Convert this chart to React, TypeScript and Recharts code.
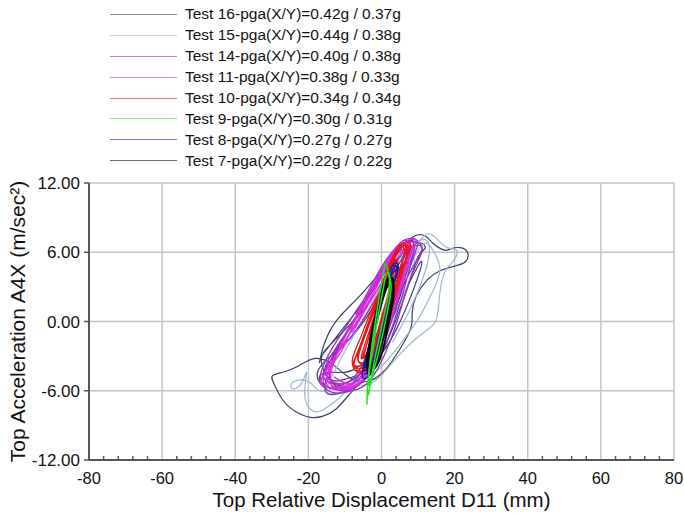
import { LineChart, Line, XAxis, YAxis, CartesianGrid, ReferenceLine, Label } from 'recharts';

type Pt = [number, number];

// hysteresis traces (x: mm, y: m/sec²)
const test16: Pt[] = [
  [-17, -3.6], [-15.5, -1.8], [-12, 0.2], [-6, 2.2], [0, 4.4], [5, 6.2], [9, 7.4], [12, 7.4],
  [14, 6.8], [17, 6.2], [19, 6.3], [21.5, 6.4], [23.5, 6.0], [23, 5.2], [20, 4.8], [16, 4.4],
  [12.5, 3.6], [9.5, 2.2], [8.4, 0.8], [8, -0.6], [5, -2.4], [1, -4.2], [-4, -5.2], [-9, -4.8],
  [-13, -3.8], [-18, -3.2], [-23, -3.9], [-27, -4.4], [-29.8, -4.7], [-29.4, -5.4], [-27, -6.8],
  [-23.5, -7.8], [-19.5, -8.3], [-16, -8.2], [-12.5, -7.6], [-9, -6.4], [-5, -5.0], [-1, -3.4],
  [3, -0.6], [7, 2.8], [10, 5.6], [12, 6.4], [10, 6.8], [6, 5.6], [1, 3.0], [-4, 0.4], [-9, -1.6],
  [-14, -3.0], [-17.5, -4.4], [-16, -5.6], [-12, -5.6], [-7, -4.8], [-2, -3.0], [3, 0.2],
  [8, 3.6], [11, 5.2], [9, 3.0], [4.5, -0.4], [0, -2.8], [-5, -4.4], [-10, -5.0], [-14, -5.0],
  [-16.5, -3.4], [-14, -2.0], [-9, -0.4], [-4, 1.4], [1, 3.8], [5, 5.6], [7, 4.6], [4, 1.2],
  [0, -1.6], [-5, -3.6], [-10, -4.4], [-15, -4.4], [-17, -5.0], [-14, -5.8], [-9, -5.6],
  [-4, -4.4], [0, -2.0], [4, 2.0], [7, 5.4], [9, 6.8], [6, 6.6], [0, 3.8], [-6, 1.2],
  [-12, -1.2], [-16, -2.8],
];

const test15: Pt[] = [
  [0, 0], [4, 3], [8, 5.6], [11, 7.2], [13, 7.6], [15, 7.2], [18, 6.4], [20.5, 6.2], [20, 5.4],
  [17.5, 4.4], [16, 2.6], [15.2, 0.4], [13, -0.6], [9, -1.6], [4, -3.2], [-2, -5.2], [-8, -5.6],
  [-13, -5.8], [-17, -6.0], [-20, -5.2], [-24, -5.2], [-24.5, -5.8], [-22, -5.4], [-20.5, -4.4],
  [-21, -6.0], [-20, -7.4], [-17, -7.8], [-13, -7.0], [-9, -5.8], [-5, -3.6], [0, -0.6], [5, 2.6],
  [9, 5.6], [12, 6.8], [14, 6.2], [16, 4.6], [14, 2.6], [10, 0.2], [5, -2.0], [-1, -4.2],
  [-7, -5.4], [-12, -6.2], [-15, -6.0], [-13, -4.4], [-9, -2.0], [-4, 0.8], [1, 3.6], [6, 5.8],
  [9, 6.2], [8, 4.0], [4, 0.8], [-2, -2.8], [-8, -5.0], [-13, -5.4], [-16, -4.6], [-13, -3.0],
  [-8, -0.8], [-2, 2.2], [4, 5.0], [10, 7.0], [13, 6.6], [12, 4.4], [8, 1.2], [3, -1.8],
];

const test14: Pt[] = [
  [-15, -5.6], [-10, -6.0], [-5, -5.2], [-1, -3.4], [3, -0.4], [6, 2.6], [8.5, 5.4], [10, 6.8],
  [8, 7.2], [4, 6.4], [0, 4.0], [-5, 1.8], [-10, -0.6], [-14, -2.6], [-16.5, -4.4],
  [-16, -5.6], [-12, -6.2], [-7, -5.6], [-3, -4.2], [1, -1.6], [4, 1.4], [7, 4.4], [9, 6.4],
  [7, 6.9], [3, 5.8], [-1, 3.4], [-6, 0.8], [-11, -1.6], [-15, -3.6],
  [-15, -4.8], [-11, -5.4], [-6, -4.6], [-2, -2.6], [2, 0.6], [5, 3.6], [7, 6.0], [6, 6.8],
  [2, 5.4], [-2, 3.0], [-7, 0.2], [-12, -2.2],
  [-14, -5.0], [-9, -5.6], [-4, -4.2], [0, -1.8], [4, 1.6], [8, 4.4], [11, 6.2], [9.5, 6.9],
  [6, 6.6], [1, 4.6], [-4, 2.0], [-9, -0.6], [-13, -2.8],
  [-16, -5.2], [-12, -5.8], [-8, -5.4], [-4, -3.6], [0, -1.0], [4, 2.2], [7, 5.0], [8, 6.6],
  [5.5, 6.9], [1, 5.0], [-3, 2.6], [-8, -0.2], [-12, -2.4],
  [-15.5, -5.8], [-11, -6.2], [-6, -5.8], [-2, -4.6], [2, -2.0], [5, 0.8], [8, 3.8], [11, 6.0],
  [10, 6.6], [6, 6.0], [2, 4.0], [-3, 1.2], [-8, -1.2], [-13, -3.0],
  [-16, -4.6], [-13, -5.4], [-8, -5.0], [-4, -3.0], [0, 0.0], [3, 3.0], [6, 5.6], [5, 6.6],
  [1, 5.2], [-3, 3.0], [-7, 0.6],
];

const test11: Pt[] = [
  [-13, -4.8], [-9, -5.4], [-5, -4.6], [-1, -2.4], [3, 0.8], [6, 3.8], [8.5, 6.2], [9.5, 7.0],
  [7, 7.0], [3, 5.6], [-1, 3.2], [-6, 0.4], [-11, -2.2], [-15, -4.2],
  [-16.5, -5.4], [-12, -5.8], [-7, -5.2], [-3, -3.4], [1, -0.6], [4, 2.6], [7, 5.4], [8, 6.6],
  [6, 6.8], [2, 5.0], [-2, 2.6], [-7, -0.2], [-12, -2.8],
  [-15, -5.4], [-11, -5.6], [-6, -5.0], [-2, -3.0], [2, 0.2], [5, 3.2], [8, 5.8], [7, 6.6],
  [3, 5.8], [-1, 3.6], [-6, 0.8], [-11, -2.0],
  [-14, -5.2], [-10, -5.8], [-5, -5.0], [-1, -2.8], [3, 0.6], [6, 3.6], [8, 6.0], [6.5, 6.8],
  [3, 6.0], [-2, 3.4], [-7, 0.4], [-11, -2.6],
  [-15, -4.6], [-12, -5.8], [-7, -5.6], [-3, -4.0], [1, -1.2], [4, 1.8], [7, 4.8], [8.5, 6.4],
  [6, 6.2], [2, 4.4], [-3, 1.8], [-8, -1.0],
];

const test10: Pt[] = [
  [-7, -4.2], [-4, -4.2], [-1, -2.6], [2, 0.2], [5, 3.4], [7, 5.6], [8, 6.6], [6, 6.8],
  [3, 5.4], [0, 3.0], [-3, 0.8], [-6, -1.6], [-8, -3.4],
  [-6.5, -4.4], [-3.5, -3.8], [-0.5, -1.6], [2.5, 1.2], [5.5, 4.4], [7.5, 6.2], [6, 6.6],
  [2.5, 5.2], [-0.5, 2.6], [-3.5, 0.0], [-6, -2.2], [-7.5, -3.8],
  [-5, -4.0], [-2, -2.8], [1, -0.2], [4, 3.0], [6, 5.4], [6.5, 6.6], [4.5, 6.4], [1.5, 4.4],
  [-1.5, 1.6], [-4.5, -1.0], [-7, -3.0],
  [-7.5, -3.8], [-4.5, -3.6], [-1.5, -1.8], [1.5, 0.8], [4.5, 3.8], [7, 5.8], [5.5, 6.2],
  [2.5, 4.8], [-0.5, 2.2], [-3.5, -0.4], [-6, -2.6],
  [-6, -3.6], [-3, -3.0], [0, -0.8], [3, 2.2], [5.5, 5.0], [7, 6.4], [5, 6.4], [2, 4.6],
  [-1, 2.0], [-4, -0.6], [-6.5, -2.8],
  [-5.5, -3.6], [-3, -3.0], [-1, -1.2], [1, 1.0], [3, 3.4], [4.5, 5.0], [3.5, 5.2], [1.5, 3.6],
  [-0.5, 1.6], [-2.5, -0.4], [-4.5, -2.4],
  [-5, -3.2], [-2.5, -2.2], [-0.5, -0.2], [1.5, 2.0], [3.5, 4.4], [4, 5.4], [2.5, 4.8],
  [0.5, 3.0], [-1.5, 1.0], [-3.5, -1.0], [-5.5, -3.0],
  [-4.5, -3.0], [-2, -1.8], [0, 0.2], [2, 2.6], [3.5, 4.6], [2.5, 4.6], [0.5, 2.6], [-1.5, 0.6],
  [-3.5, -1.4], [-5, -3.2],
];

const test9: Pt[] = [
  [-4, -7.2], [-3.8, -5.6], [-3.2, -3.6], [-2.4, -1.6], [-1.4, 0.6], [-0.4, 2.6], [0.6, 4.4],
  [1.1, 5.0], [1.8, 4.4], [2.6, 3.2], [2.2, 1.8], [1.2, 0.2], [0, -1.6], [-1.2, -3.2],
  [-2.4, -4.6], [-3.2, -5.6], [-3.4, -4.6], [-2.6, -2.8], [-1.6, -0.8], [-0.4, 1.4], [0.8, 3.4],
  [1.6, 4.2], [2.2, 3.4], [1.4, 1.6], [0.2, -0.2], [-1, -2.0], [-2.2, -3.8], [-3.6, -6.4],
];

const test8: Pt[] = [
  [-4.8, -4.6], [-2.6, -4.0], [-0.6, -2.0], [1.4, 0.6], [3.2, 3.0], [4.6, 4.6], [3.4, 5.0],
  [1.2, 3.4], [-0.8, 1.0], [-2.8, -1.4], [-4.6, -3.4], [-5.2, -4.8], [-3.4, -4.6], [-1.4, -2.6],
  [0.6, 0.0], [2.6, 2.4], [4.2, 4.2], [3.6, 4.8], [1.6, 3.2], [-0.4, 1.0], [-2.4, -1.4],
  [-4.2, -3.4], [-4.8, -4.2], [-2.8, -3.8], [-0.8, -1.4], [1.6, 1.2], [3.4, 3.4], [4, 4.4],
  [2.2, 3.8], [0, 1.6], [-2, -0.8], [-3.8, -2.8], [-4.4, -4.0], [-2.2, -3.2], [0, -0.8],
];

const test7: Pt[] = [
  [-3.8, -4.2], [-1.2, -3.2], [0.9, -0.8], [2.5, 1.4], [3.3, 3.0], [2.8, 3.8], [0.6, 3.2],
  [-1.2, 1.2], [-2.8, -1.0], [-3.8, -3.0],
  [-3.4, -4.2], [-0.8, -2.8], [1.2, -0.4], [2.7, 2.0], [3.1, 3.4], [2.0, 3.8], [0.0, 2.4],
  [-1.6, 0.2], [-3.0, -1.8], [-4.0, -3.6],
  [-3.0, -4.0], [-0.4, -2.4], [1.5, 0.0], [2.9, 2.4], [2.8, 3.2], [1.2, 3.0], [-0.4, 1.4],
  [-2.0, -0.6], [-3.4, -2.6], [-3.8, -4.2],
  [-2.4, -3.8], [0, -1.8], [1.9, 0.6], [3.0, 2.8], [2.4, 3.6], [0.4, 2.6], [-1.4, 0.6],
  [-2.6, -1.4], [-3.6, -3.4],
  [-3.2, -4.4], [-0.6, -3.4], [1.3, -1.2], [2.7, 1.0], [3.4, 2.6], [2.6, 3.8], [0.8, 3.0],
  [-0.8, 1.6], [-2.4, -0.6], [-3.6, -2.4], [-4.0, -3.8],
  [-2.8, -4.0], [-0.8, -2.6], [0.7, -0.6], [2.1, 1.4], [2.8, 3.0], [1.6, 3.4], [-0.2, 1.8],
  [-1.8, -0.2], [-3.2, -2.2], [-3.8, -3.6],
  [-2.2, -3.6], [0.4, -1.6], [2.1, 0.6], [3.2, 2.4], [2.6, 3.4], [0.8, 2.4], [-1.0, 0.4],
  [-2.4, -1.6], [-3.4, -3.2],
  [-3.6, -4.6], [-1.4, -3.6], [0.5, -1.4], [1.9, 0.6], [3.0, 2.4], [2.4, 3.2], [0.4, 2.2],
  [-1.4, 0.2], [-3.0, -2.0], [-3.8, -3.8],
];

const xTicks = [-80, -60, -40, -20, 0, 20, 40, 60, 80];
const xMinorTicks = [
  -76, -72, -68, -64, -56, -52, -48, -44, -36, -32, -28, -24, -16, -12, -8, -4,
  4, 8, 12, 16, 24, 28, 32, 36, 44, 48, 52, 56, 64, 68, 72, 76,
];
const yTicks = [-12, -6, 0, 6, 12];

const series = [
  { name: 'Test 16-pga(X/Y)=0.42g / 0.37g', pts: test16, color: '#3d3d6b', width: 1.2 },
  { name: 'Test 15-pga(X/Y)=0.44g / 0.38g', pts: test15, color: '#9bb8d6', width: 1.2 },
  { name: 'Test 14-pga(X/Y)=0.40g / 0.38g', pts: test14, color: '#9432c0', width: 1.3 },
  { name: 'Test 11-pga(X/Y)=0.38g / 0.33g', pts: test11, color: '#e628e6', width: 1.3 },
  { name: 'Test 10-pga(X/Y)=0.34g / 0.34g', pts: test10, color: '#ee1414', width: 1.3 },
  { name: 'Test 9-pga(X/Y)=0.30g / 0.31g', pts: test9, color: '#22e022', width: 1.5 },
  { name: 'Test 8-pga(X/Y)=0.27g / 0.27g', pts: test8, color: '#1c1ca8', width: 1.5 },
  { name: 'Test 7-pga(X/Y)=0.22g / 0.22g', pts: test7, color: '#0a0a0a', width: 1.8 },
];

// green sits on top of the black core in the reference
const drawOrder = [0, 1, 2, 3, 4, 6, 7, 5];

const FONT = '"Liberation Sans", Arial, sans-serif';

function LegendBox() {
  return (
    <div style={{ position: 'absolute', left: 110, top: 4 }}>
      {series.map((s) => (
        <div key={s.name} style={{ display: 'flex', alignItems: 'center', height: 20.9 }}>
          <div style={{ width: 67, height: 1, background: s.color, opacity: 0.6, marginRight: 8 }} />
          <span style={{ fontSize: 15.5, color: '#111', whiteSpace: 'nowrap' }}>{s.name}</span>
        </div>
      ))}
    </div>
  );
}

const yTitle = (props: any) => {
  const vb = props.viewBox;
  const cy = vb.y + vb.height / 2;
  return (
    <text x={17} y={cy} transform={`rotate(-90, 17, ${cy})`} textAnchor="middle"
      dominantBaseline="central" fontSize={21} fill="#111" fontFamily={FONT}>
      Top Acceleration A4X (m/sec²)
    </text>
  );
};

const xTitle = (props: any) => {
  const vb = props.viewBox;
  return (
    <text x={vb.x + vb.width / 2} y={499} textAnchor="middle" dominantBaseline="central"
      fontSize={20.5} fill="#111" fontFamily={FONT}>
      Top Relative Displacement D11 (mm)
    </text>
  );
};

export default function App() {
  return (
    <div style={{ position: 'absolute', left: 0, top: 0, width: 684, height: 514, background: '#fff', fontFamily: FONT }}>
      <LegendBox />
      <LineChart width={684} height={514} margin={{ top: 183, right: 10, bottom: 0, left: 0 }}>
        <CartesianGrid stroke="#c4c4c4" strokeWidth={1.5}
          horizontalValues={yTicks} verticalValues={xTicks} />
        <XAxis type="number" dataKey="x" domain={[-80, 80]} ticks={xTicks} height={54}
          allowDataOverflow interval={0} tickLine={false} tickMargin={6}
          axisLine={{ stroke: '#555', strokeWidth: 2 }}
          tick={{ fontSize: 16.5, fill: '#111', fontFamily: FONT }}>
          <Label content={xTitle} />
        </XAxis>
        <YAxis type="number" dataKey="y" domain={[-12, 12]} ticks={yTicks} width={89}
          allowDataOverflow interval={0} tickSize={5} tickMargin={4}
          tickFormatter={(v: number) => v.toFixed(2)}
          axisLine={{ stroke: '#555', strokeWidth: 2 }}
          tickLine={{ stroke: '#555', strokeWidth: 1.5 }}
          tick={{ fontSize: 17, fill: '#111', fontFamily: FONT }}>
          <Label content={yTitle} />
        </YAxis>
        {xMinorTicks.map((v) => (
          <ReferenceLine key={v} segment={[{ x: v, y: -12 }, { x: v, y: -11.66 }]}
            stroke="#555" strokeWidth={1.5} ifOverflow="visible" />
        ))}
        {drawOrder.map((i) => {
          const s = series[i];
          return (
            <Line key={s.name} data={s.pts.map(([x, y]) => ({ x, y }))} dataKey="y"
              type="natural" stroke={s.color} strokeWidth={s.width} dot={false}
              activeDot={false} isAnimationActive={false} />
          );
        })}
      </LineChart>
    </div>
  );
}
